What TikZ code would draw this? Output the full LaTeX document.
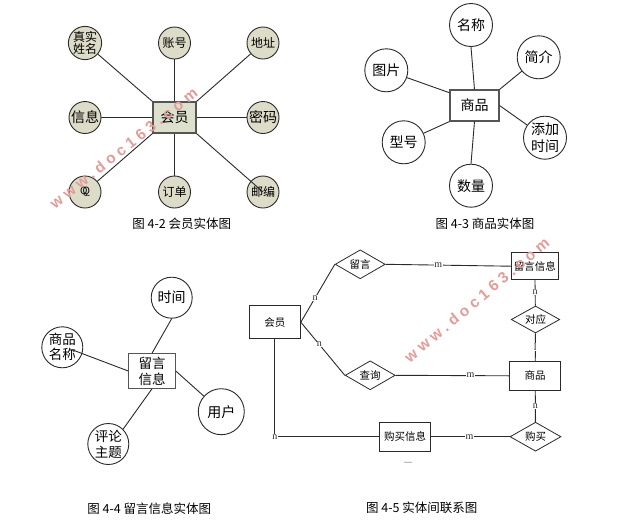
\documentclass[tikz,border=0pt]{standalone}
\usepackage{fontspec}
\usetikzlibrary{shapes.geometric}
\setmainfont{Noto Sans CJK SC}
\newfontfamily\wmfont[LetterSpace=28]{Liberation Sans}
\newfontfamily\cardfont{Liberation Serif}
\definecolor{attrfill}{HTML}{DCDCC8}
\definecolor{boxfill}{HTML}{DDE0CC}
\definecolor{wmred}{HTML}{E39C98}
\definecolor{ink}{HTML}{2A2A2A}
\definecolor{softink}{HTML}{555555}
\tikzset{
  attr/.style={circle,draw=ink,line width=0.9pt,inner sep=0pt,minimum size=#1,align=center,font=\fontsize{14}{16}\selectfont,fill=white},
  attrg/.style={circle,draw=ink,line width=0.9pt,inner sep=0pt,minimum size=32pt,align=center,font=\fontsize{12}{14}\selectfont,fill=attrfill},
  ent/.style={rectangle,draw=softink,line width=1.05pt,inner sep=0pt,minimum width=#1,align=center,fill=white},
  rel/.style={diamond,aspect=1.75,draw=ink,line width=0.8pt,inner sep=0pt,minimum width=50pt,minimum height=29pt,font=\fontsize{10.5}{12}\selectfont,fill=white},
  link/.style={draw=ink,line width=0.9pt},
  card/.style={fill=white,inner sep=0.5pt,font=\cardfont\fontsize{10}{10}\selectfont,text=ink},
  figcap/.style={font=\fontsize{12.5}{14}\selectfont,inner sep=0pt},
  wmark/.style={font=\wmfont\bfseries\fontsize{15.3}{17}\selectfont,text=wmred,inner sep=0pt}
}
\begin{document}
\begin{tikzpicture}[x=1pt,y=-1pt]
\useasboundingbox (0,0) rectangle (625,523);
\fill[white] (0,0) rectangle (625,523);
% Fig 4-2
\node[ent=43pt,minimum height=31pt,fill=boxfill,font=\fontsize{14}{16}\selectfont] (m) at (174.5,117.5) {会员};
\node[attrg] (a1) at (85,43) {真实\\[-2pt]姓名};
\node[attrg] (a2) at (174.5,43) {账号};
\node[attrg] (a3) at (263,43) {地址};
\node[attrg,font=\fontsize{14}{16}\selectfont] (a4) at (85,117.5) {信息};
\node[attrg,font=\fontsize{14}{16}\selectfont] (a5) at (263,117.5) {密码};
\node[attrg,font=\fontsize{10}{12}\selectfont] (a6) at (85,192) {Q\kern-5pt Q};
\node[attrg] (a7) at (174.5,192) {订单};
\node[attrg] (a8) at (263,192) {};
\draw[link] (a1) -- (m.north west);
\draw[link] (a2) -- (m.north);
\draw[link] (a3) -- (m.north east);
\draw[link] (a4) -- (m.west);
\draw[link] (a5) -- (m.east);
\draw[link] (a6) -- (m.south west);
\draw[link] (a7) -- (m.south);
\draw[link] (m.south east) -- (a8.center);
\node[attrg,draw=none,fill=none] (a8t) at (a8) {邮编};
\node[figcap] (c2) at (181.7,224) {图 4-2 会员实体图};
% Fig 4-3
\node[ent=49pt,minimum height=31pt,font=\fontsize{14}{16}\selectfont] (g) at (474.5,105.5) {商品};
\node[attr=43pt] (b1) at (471,25) {名称};
\node[attr=43pt] (b2) at (538.7,57.3) {简介};
\node[attr=43pt,font=\fontsize{14}{17}\selectfont] (b3) at (545,137.7) {添加\\时间};
\node[attr=43pt] (b4) at (471,185.7) {数量};
\node[attr=43pt] (b5) at (403.7,142.3) {型号};
\node[attr=43pt] (b6) at (386.3,70.3) {图片};
\draw[link] (b1.south) -- (g.north);
\draw[link] (b2) -- (g.north east);
\draw[link] (b3) -- (g.east);
\draw[link] (b4.north) -- (g.south);
\draw[link] (b5) -- (g.south west);
\draw[link] (b6) -- (g.153);
\node[figcap] (c3) at (485,224) {图 4-3 商品实体图};
% Fig 4-4
\node[ent=46.5pt,minimum height=34.5pt,font=\fontsize{13.5}{16}\selectfont] (s) at (152,371) {留言\\信息};
\node[attr=41pt] (d1) at (171.7,297.7) {时间};
\node[attr=41pt,font=\fontsize{13.5}{15}\selectfont] (d2) at (62.3,347.3) {商品\\名称};
\node[attr=46pt] (d3) at (221.3,411.7) {用户};
\node[attr=41pt,font=\fontsize{13.5}{16}\selectfont] (d4) at (108.3,444) {评论\\主题};
\draw[link] (d1.south) -- (s.north);
\coordinate (d2in) at (71.5,349.5);
\draw[link] (d2in) -- (s.west);
\draw[link] (d3) -- (s.east);
\draw[link] (d4.45) -- (s.south);
\node[figcap] (c4) at (149.3,508.3) {图 4-4 留言信息实体图};
% Fig 4-5
\tikzset{er/.style={ent=51pt,font=\fontsize{10.5}{12}\selectfont,draw=ink}}
\node[er,minimum height=33pt] (e1) at (274.8,322.2) {会员};
\node[ent=47pt,draw=ink,minimum height=27pt,font=\fontsize{10.5}{12}\selectfont] (e2) at (534.8,266.2) {留言信息};
\node[er,minimum height=29pt] (e3) at (535.2,375.8) {商品};
\node[er,minimum height=29pt] (e4) at (405.2,436.7) {购买信息};
\node[rel] (r1) at (360.2,264.3) {留言};
\node[rel] (r2) at (370.2,375.3) {查询};
\node[rel,minimum width=48.5pt,minimum height=27pt] (r3) at (535.5,319.5) {对应};
\node[rel,minimum width=51pt] (r4) at (535.5,436.7) {购买};
\draw[link] (e1.east) -- node[card,pos=0.42] {n} (r1.west);
\draw[link] (e1.east) -- node[card,pos=0.42] {n} (r2.west);
\draw[link] (r1.east) -- node[card,pos=0.42] {m} (e2.west);
\draw[link] (r2.east) -- node[card,pos=0.66] {m} (e3.west);
\draw[link] (e2) -- node[card,pos=0.45] {n} (r3);
\draw[link] (r3) -- node[card,pos=0.5] {l} (e3);
\draw[link] (e3) -- node[card,pos=0.5] {n} (r4);
\draw[link] (e4) -- node[card,pos=0.49] {m} (r4);
\coordinate (bend) at (e1.south |- e4.west);
\draw[link] (e1.south) -- (bend) -- (e4.west);
\node[card] (nlab) at (bend) {n};
\node[font=\fontsize{10}{12}\selectfont,text=gray,inner sep=0pt] (dash) at (408,464) {—};
\node[figcap] (c5) at (421.7,507.7) {图 4-5 实体间联系图};
% watermarks
\node[wmark,rotate=38.5] (w1) at (123.5,148) {www.doc163.com};
\node[wmark,rotate=40] (w2) at (476.7,300) {www.doc163.com};
\end{tikzpicture}
\end{document}
